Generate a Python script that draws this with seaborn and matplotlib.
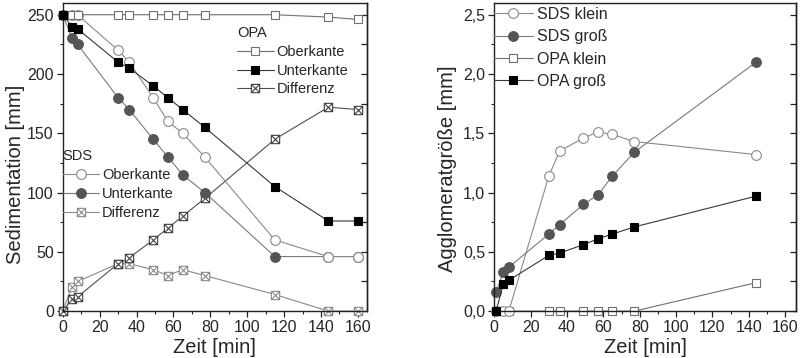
import numpy as np
import pandas as pd
import matplotlib
matplotlib.use("Agg")
import matplotlib.pyplot as plt
from matplotlib.path import Path
from matplotlib.ticker import MultipleLocator, FuncFormatter, NullFormatter
import seaborn as sns

# ---- Sedimentation (left panel) ----
zeit_sed = [0, 5, 8, 30, 36, 49, 57, 65, 77, 115, 144, 160]
opa_oberkante = [250, 250, 250, 250, 250, 250, 250, 250, 250, 250, 248, 246]
opa_unterkante = [250, 240, 238, 210, 205, 190, 180, 170, 155, 105, 76, 76]
opa_differenz = [0, 10, 12, 40, 45, 60, 70, 80, 95, 145, 172, 170]
sds_oberkante = [250, 250, 250, 220, 210, 180, 160, 150, 130, 60, 46, 46]
sds_unterkante = [250, 230, 225, 180, 170, 145, 130, 115, 100, 46, 46, 46]
sds_differenz = [0, 20, 25, 40, 40, 35, 30, 35, 30, 14, 0, 0]

# ---- Agglomerate size (right panel) ----
zeit_agg = [1, 5, 8, 30, 36, 49, 57, 65, 77, 144]
sds_klein = [0, 0, 0, 1.14, 1.35, 1.46, 1.51, 1.49, 1.43, 1.32]
sds_gross = [0.16, 0.33, 0.37, 0.65, 0.73, 0.90, 0.98, 1.14, 1.34, 2.10]
opa_klein = [0, 0, 0, 0, 0, 0, 0, 0, 0, 0.24]
opa_gross = [0, 0.23, 0.26, 0.47, 0.49, 0.56, 0.61, 0.65, 0.71, 0.97]

sns.set_theme(style="ticks")
plt.rcParams["font.family"] = ["Liberation Sans", "DejaVu Sans"]
plt.rcParams["axes.linewidth"] = 1.0

# square with a cross inside
crossed_square = Path(
    [(-1, -1), (1, -1), (1, 1), (-1, 1), (-1, -1),
     (-1, -1), (1, 1), (-1, 1), (1, -1)],
    [Path.MOVETO, Path.LINETO, Path.LINETO, Path.LINETO, Path.CLOSEPOLY,
     Path.MOVETO, Path.LINETO, Path.MOVETO, Path.LINETO],
)

fig = plt.figure(figsize=(8.05, 3.58), dpi=100)
ax1 = fig.add_axes([0.078, 0.131, 0.378, 0.861])
ax2 = fig.add_axes([0.614, 0.131, 0.375, 0.861])


def draw(ax, x, y, label, line, marker, mfc, mec, ms, z=2):
    sns.lineplot(x=x, y=y, ax=ax, sort=False, estimator=None, color=line,
                 lw=0.8, marker=marker, markersize=ms, markerfacecolor=mfc,
                 markeredgecolor=mec, markeredgewidth=0.8, label=label,
                 clip_on=False, zorder=z, legend=False)
    return ax.get_lines()[-1]


# left panel
h_sds_d = draw(ax1, zeit_sed, sds_differenz, "Differenz", "#8a8a8a", crossed_square, "white", "#8a8a8a", 6)
h_opa_d = draw(ax1, zeit_sed, opa_differenz, "Differenz", "#505050", crossed_square, "white", "#404040", 6)
h_sds_u = draw(ax1, zeit_sed, sds_unterkante, "Unterkante", "#7a7a7a", "o", "#555555", "#555555", 7)
h_sds_o = draw(ax1, zeit_sed, sds_oberkante, "Oberkante", "#8a8a8a", "o", "white", "#8a8a8a", 7)
h_opa_o = draw(ax1, zeit_sed, opa_oberkante, "Oberkante", "#707070", "s", "white", "#707070", 6)
h_opa_u = draw(ax1, zeit_sed, opa_unterkante, "Unterkante", "#383838", "s", "black", "black", 6, z=3)

leg_kw = dict(frameon=False, fontsize=10.5, title_fontsize=10.5, handlelength=2.5,
              handletextpad=0.2, labelspacing=0.33, borderpad=0, borderaxespad=0,
              alignment="left", loc="upper left")
leg_opa = ax1.legend([h_opa_o, h_opa_u, h_opa_d], ["Oberkante", "Unterkante", "Differenz"],
                     title="OPA", bbox_to_anchor=(0.573, 0.925), **leg_kw)
ax1.add_artist(leg_opa)
ax1.legend([h_sds_o, h_sds_u, h_sds_d], ["Oberkante", "Unterkante", "Differenz"],
           title="SDS", bbox_to_anchor=(0.0, 0.525), **leg_kw)

ax1.set_xlim(0, 165)
ax1.set_ylim(0, 260)
ax1.xaxis.set_major_locator(MultipleLocator(20))
ax1.xaxis.set_minor_locator(MultipleLocator(10))
ax1.yaxis.set_major_locator(MultipleLocator(50))
ax1.yaxis.set_minor_locator(MultipleLocator(25))
ax1.set_xlabel("Zeit [min]", fontsize=14.5, labelpad=2)
ax1.set_ylabel("Sedimentation [mm]", fontsize=14.5)
ax1.yaxis.set_label_coords(-0.125, 0.445)

# right panel
h_ok = draw(ax2, zeit_agg, opa_klein, "OPA klein", "#707070", "s", "white", "#707070", 6)
h_sk = draw(ax2, zeit_agg, sds_klein, "SDS klein", "#8a8a8a", "o", "white", "#8a8a8a", 7)
h_sg = draw(ax2, zeit_agg, sds_gross, "SDS groß", "#7a7a7a", "o", "#555555", "#555555", 7)
h_og = draw(ax2, zeit_agg, opa_gross, "OPA groß", "#383838", "s", "black", "black", 6, z=3)

ax2.legend([h_sk, h_sg, h_ok, h_og], ["SDS klein", "SDS groß", "OPA klein", "OPA groß"],
           frameon=False, fontsize=11.5, handlelength=2.4, handletextpad=0.25,
           labelspacing=0.46, borderpad=0, borderaxespad=0, loc="upper left",
           bbox_to_anchor=(0.0, 0.987))

ax2.set_xlim(0, 166)
ax2.set_ylim(0, 2.6)
ax2.xaxis.set_major_locator(MultipleLocator(20))
ax2.xaxis.set_minor_locator(MultipleLocator(10))
ax2.yaxis.set_major_locator(MultipleLocator(0.5))
ax2.yaxis.set_minor_locator(MultipleLocator(0.25))
ax2.yaxis.set_major_formatter(FuncFormatter(lambda v, p: f"{v:.1f}".replace(".", ",")))
ax2.set_xlabel("Zeit [min]", fontsize=14.5, labelpad=2)
ax2.set_ylabel("Agglomeratgröße [mm]", fontsize=14.5)
ax2.yaxis.set_label_coords(-0.123, 0.463)

for ax, major, minor in ((ax1, 50, 25), (ax2, 0.5, 0.25)):
    for s in ax.spines.values():
        s.set_color("#222222")
        s.set_visible(True)
    ax.tick_params(axis="both", which="major", direction="out", length=4.5, width=0.9,
                   labelsize=11.5, color="#222222", pad=2)
    ax.tick_params(axis="both", which="minor", direction="out", length=2.5, width=0.8,
                   color="#222222")
    ax.tick_params(axis="x", which="both", top=False)
    ax.tick_params(axis="y", which="both", right=False)
    # inward ticks along the right-hand frame
    sec = ax.secondary_yaxis("right")
    sec.yaxis.set_major_locator(MultipleLocator(major))
    sec.yaxis.set_minor_locator(MultipleLocator(minor))
    sec.yaxis.set_major_formatter(NullFormatter())
    sec.tick_params(which="both", direction="in", length=4, width=0.9, color="#222222")
    sec.spines["right"].set_color("#222222")

fig.savefig("out.png", dpi=100)
